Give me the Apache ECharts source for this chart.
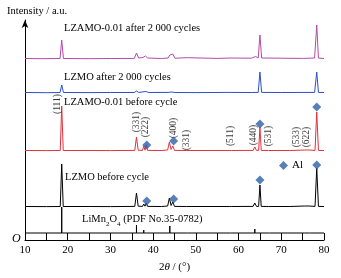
<!DOCTYPE html>
<html>
<head>
<meta charset="utf-8">
<script src="https://cdn.jsdelivr.net/npm/echarts@6/dist/echarts.min.js"></script>
<style>
  html, body { margin: 0; padding: 0; background: #fff; }
  #chart { width: 341px; height: 278px; }
</style>
</head>
<body>
<div id="chart"></div>
<script>
// 2θ / intensity pairs, intensity measured above each pattern's own baseline
var lzamoAfter = [[10,0.5],[14,0.3],[18.2,0.5],[18.6,19],[19.0,0.5],[25,0.3],[30,0.5],[35.6,0.6],[36.1,6],[36.6,1],
  [37.6,1.5],[38.2,3],[38.7,1],[42,0.5],[43.5,1],[43.9,4],[44.3,2],[44.6,5],[45.1,0.8],[48,1.3],[55,0.6],[58,1],
  [63,0.8],[64,2.5],[64.6,1],[65,24],[65.4,1],[70,0.8],[75,0.6],[77.8,1],[78.3,34],[78.7,1],[80,0.5]];
var lzmoAfter = [[10,0.5],[15,0.3],[18.2,0.5],[18.6,8],[19.0,0.5],[25,0.4],[30,0.5],[35.6,0.5],[36.1,2],[36.6,0.6],
  [38.3,1.5],[39,0.5],[43.5,0.6],[43.9,2],[44.3,1],[44.6,2],[45.1,0.5],[50,0.4],[58,0.6],[63,0.5],[64.6,0.6],
  [65,21],[65.4,0.6],[70,0.5],[77.8,0.6],[78.3,21],[78.7,0.6],[80,0.5]];
var lzamoBefore = [[10,0.5],[15,0.4],[18.25,0.5],[18.6,45],[18.95,0.5],[25,0.5],[30,0.4],[35.7,0.6],[36.1,14],[36.5,0.8],
  [37.5,0.6],[37.8,5],[38.1,0.8],[38.4,6],[38.7,0.6],[42,0.5],[43.4,1],[43.8,9],[44.2,1.5],[44.6,5],[45,0.6],
  [47.8,0.5],[48.1,2],[48.4,0.5],[54,0.5],[57.8,0.5],[58.1,1.5],[58.4,0.5],[63.4,0.6],[63.8,4],[64.2,0.6],
  [64.7,0.6],[65,24],[65.3,0.6],[67,0.5],[67.3,1.5],[67.6,0.5],[72,0.5],[75.5,1],[76.5,1],[77.9,0.6],[78.3,39],
  [78.7,0.6],[80,0.5]];
var lzmoBefore = [[10,0.5],[15,0.4],[18.25,0.5],[18.6,43],[18.95,0.5],[25,0.5],[30,0.4],[35.7,0.6],[36.1,14],[36.5,0.8],
  [37.5,0.6],[37.8,3],[38.1,0.8],[38.4,4],[38.7,0.6],[42,0.5],[43.4,1],[43.8,9],[44.2,1.5],[44.6,5],[45,0.6],
  [47.8,0.5],[48.1,2],[48.4,0.5],[54,0.5],[57.8,0.5],[58.1,2],[58.4,0.5],[63.4,0.6],[63.8,4],[64.2,0.6],
  [64.7,0.6],[65,22],[65.3,0.6],[67,0.5],[67.3,1.5],[67.6,0.5],[72,0.5],[75.5,1],[76.5,1],[77.9,0.6],[78.3,39],
  [78.7,0.6],[80,0.5]];
// PDF No.35-0782 reference sticks
var pdfPos = [18.6, 36.1, 37.8, 43.9, 48.1, 58.1, 63.8, 67.2, 75.5, 76.6];
var pdfHeight = [26, 8, 3, 7, 1.5, 2, 4, 2, 1.5, 1.5];
// Al diamonds
var alRedPos = [38.5, 44.8, 65, 78.3];
var alRedHeight = [6, 10, 27, 44];
var alBlackPos = [38.5, 44.8, 65, 78.3];
var alBlackHeight = [6, 8, 27, 42];
// hkl labels on the LZAMO-0.01 before cycle pattern
var hklNames = ['(111)', '(331)', '(222)', '(400)', '(331)', '(511)', '(440)', '(531)', '(533)', '(622)'];
var hklPos = [17.7, 36.0, 38.1, 44.7, 47.9, 58.0, 63.4, 67.1, 73.5, 75.8];
var hklHeight = [47, 29, 24, 23, 11, 15, 16, 15, 14, 14];

var offsets = { pdf: 7, lzmoBefore: 33, lzamoBefore: 89, lzmoAfter: 147, lzamoAfter: 181 };
var serif = 'Liberation Serif';

function shift(data, off) {
  return data.map(function (p) { return [p[0], p[1] + off]; });
}
function sticks(pos, h, off) {
  var out = [[10, off]];
  pos.forEach(function (p, i) {
    out.push([p, off], [p, off + h[i]], [p, off]);
  });
  out.push([80, off]);
  return out;
}
function lineSerie(name, data, color) {
  return {
    name: name, type: 'line', data: data, symbol: 'none', silent: true,
    lineStyle: { color: color, width: 1 }, z: 2
  };
}

var alData = alRedPos.map(function (p, i) { return [p, alRedHeight[i] + offsets.lzamoBefore]; })
  .concat(alBlackPos.map(function (p, i) { return [p, alBlackHeight[i] + offsets.lzmoBefore]; }));
var hklData = hklNames.map(function (n, i) {
  return { name: n, value: [hklPos[i], hklHeight[i] + offsets.lzamoBefore] };
});

var chart = echarts.init(document.getElementById('chart'));
chart.setOption({
  animation: false,
  grid: { left: 25, right: 17, top: 20, bottom: 38 },
  legend: {
    data: ['Al'], left: 274, top: 155, icon: 'diamond', itemWidth: 9, itemHeight: 9, itemGap: 4,
    textStyle: { fontFamily: serif, fontSize: 11, color: '#000', padding: [0, 0, 0, -1] }
  },
  xAxis: {
    type: 'value', min: 10, max: 80, interval: 5,
    name: '{n|2}{i|θ}{n| / (°)}', nameLocation: 'middle', nameGap: 22,
    nameTextStyle: {
      rich: {
        n: { fontFamily: serif, fontSize: 11, color: '#000' },
        i: { fontFamily: serif, fontSize: 11, fontStyle: 'italic', color: '#000' }
      }
    },
    axisLine: { lineStyle: { color: '#000', width: 1 } },
    axisTick: { inside: true, length: 7, lineStyle: { color: '#000' } },
    axisLabel: {
      fontFamily: serif, fontSize: 11, color: '#000', margin: 5,
      formatter: function (v) { return v % 10 === 0 ? String(v) : ''; }
    },
    splitLine: { show: false }
  },
  yAxis: {
    type: 'value', min: 0, max: 220,
    axisLine: { show: true, symbol: ['none', 'arrow'], symbolSize: [5, 8], lineStyle: { color: '#000', width: 1 } },
    axisTick: { show: false }, axisLabel: { show: false }, splitLine: { show: false }
  },
  series: [
    lineSerie('pdf', sticks(pdfPos, pdfHeight, offsets.pdf), '#000'),
    lineSerie('lzmoBefore', shift(lzmoBefore, offsets.lzmoBefore), '#000'),
    lineSerie('lzamoBefore', shift(lzamoBefore, offsets.lzamoBefore), '#e0323c'),
    lineSerie('lzmoAfter', shift(lzmoAfter, offsets.lzmoAfter), '#2c4fc8'),
    lineSerie('lzamoAfter', shift(lzamoAfter, offsets.lzamoAfter), '#b14ba8'),
    {
      name: 'Al', type: 'scatter', symbol: 'diamond', symbolSize: 9, data: alData,
      itemStyle: { color: '#2d5fa8' }, z: 4
    },
    {
      name: 'hkl', type: 'scatter', symbolSize: 0, data: hklData, silent: true,
      label: {
        show: true, position: 'inside', rotate: 90, formatter: '{b}',
        fontFamily: serif, fontSize: 9.5, color: '#000'
      }
    }
  ],
  graphic: [
    { type: 'text', left: 7, top: 6, style: { text: 'Intensity / a.u.', font: '10.5px "Liberation Serif"', fill: '#000' } },
    { type: 'text', left: 12, top: 233, style: { text: 'O', font: 'italic 12px "Liberation Serif"', fill: '#000' } },
    { type: 'text', left: 64, top: 23, style: { text: 'LZAMO-0.01 after 2 000 cycles', font: '10.5px "Liberation Serif"', fill: '#000' } },
    { type: 'text', left: 64, top: 72, style: { text: 'LZMO after 2 000 cycles', font: '10.5px "Liberation Serif"', fill: '#000' } },
    { type: 'text', left: 64, top: 97, style: { text: 'LZAMO-0.01 before cycle', font: '10.5px "Liberation Serif"', fill: '#000' } },
    { type: 'text', left: 65, top: 172, style: { text: 'LZMO before cycle', font: '10.5px "Liberation Serif"', fill: '#000' } },
    {
      type: 'text', left: 82, top: 214,
      style: {
        text: '{n|LiMn}{s|2}{n|O}{s|4}{n| (PDF No.35-0782)}',
        rich: {
          n: { fontFamily: serif, fontSize: 10.5, fill: '#000', lineHeight: 14, verticalAlign: 'top' },
          s: { fontFamily: serif, fontSize: 7, fill: '#000', lineHeight: 14, verticalAlign: 'bottom', padding: [7, 0, 0, 0] }
        }
      }
    }
  ]
});
</script>
</body>
</html>
